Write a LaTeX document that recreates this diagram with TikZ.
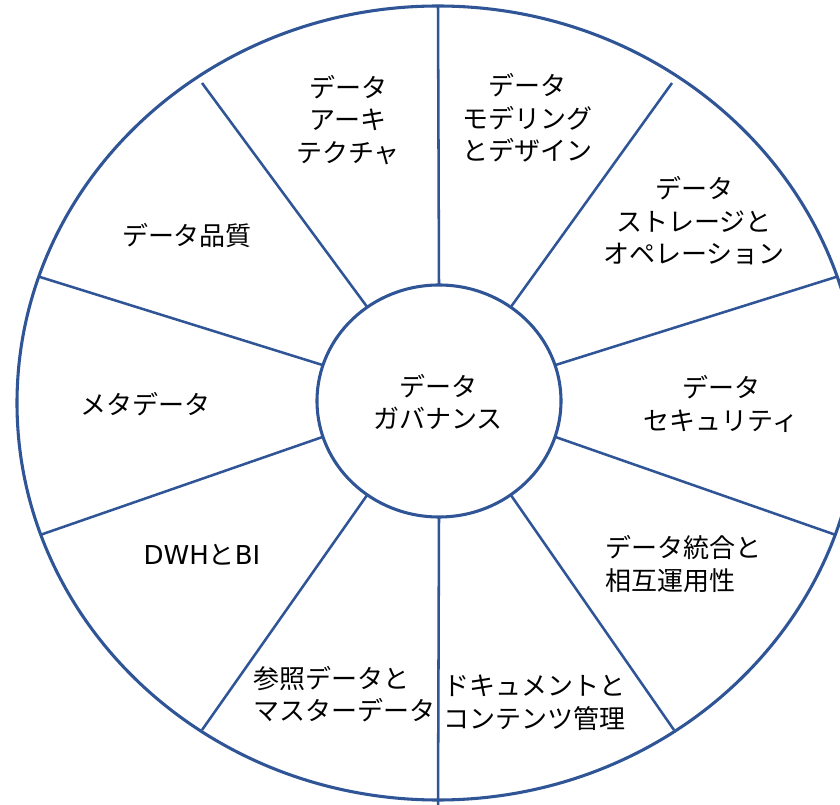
\documentclass[tikz,border=0pt]{standalone}
\usepackage{fontspec}
\newfontfamily\jp{Noto Sans CJK JP}
\newfontfamily\lat{DejaVu Sans}
\definecolor{wheel}{RGB}{47,85,151}
\begin{document}
\begin{tikzpicture}[x=0.75pt,y=-0.75pt,
  lab/.style={font=\jp\fontsize{19.5}{24.4}\selectfont, inner sep=0pt, align=center},
  labl/.style={lab, align=left, anchor=west},
  spoke/.style={draw=wheel, line width=1.9pt},
  rim/.style={draw=wheel, line width=2.3pt}]
\useasboundingbox (0,0) rectangle (840,805);
\fill[white] (0,0) rectangle (840,805);
\begin{scope}
\clip (0,0) rectangle (840,805);
\coordinate (c) at (438,403);
\draw[rim] (c) ellipse [x radius=315.75pt, y radius=297.75pt];
\draw[rim, fill=white] (439,401) ellipse [x radius=91.5pt, y radius=87pt];
% spoke ends
\foreach \a [count=\i] in {90,54,18,-18,-54,-90,-126,-162,162,126} {
  \coordinate (in\i) at ({439+122*cos(\a)},{401-116*sin(\a)});
}
\coordinate (out1) at (438,5);
\coordinate (out2) at (672,83);
\coordinate (out3) at (836,277);
\coordinate (out4) at (836,535);
\coordinate (out5) at (674,730);
\coordinate (out6) at (438,810);
\coordinate (out7) at (202,730);
\coordinate (out8) at (40,535);
\coordinate (out9) at (40,277);
\coordinate (out10) at (202,83);
\foreach \i in {1,...,10} { \draw[spoke] (in\i) -- (out\i); }
\end{scope}
% labels
\node[lab] (hub) at (438,402) {データ\\ガバナンス};
\node[lab] (arch) at (348,120) {データ\\アーキ\\テクチャ};
\node[lab] (model) at (527,118) {データ\\モデリング\\とデザイン};
\node[lab] (store) at (694,221) {データ\\ストレージと\\オペレーション};
\node[lab] (sec) at (721,404) {データ\\セキュリティ};
\node[labl] (integ) at (605,564) {データ統合と\\相互運用性};
\node[labl] (doc) at (443,703) {ドキュメントと\\コンテンツ管理};
\node[labl] (ref) at (253,694) {参照データと\\マスターデータ};
\node[lab] (dwh) at (202,555) {{\lat DWH}と{\lat BI}};
\node[lab] (meta) at (145,404) {メタデータ};
\node[lab] (qual) at (187,236) {データ品質};
\end{tikzpicture}
\end{document}
